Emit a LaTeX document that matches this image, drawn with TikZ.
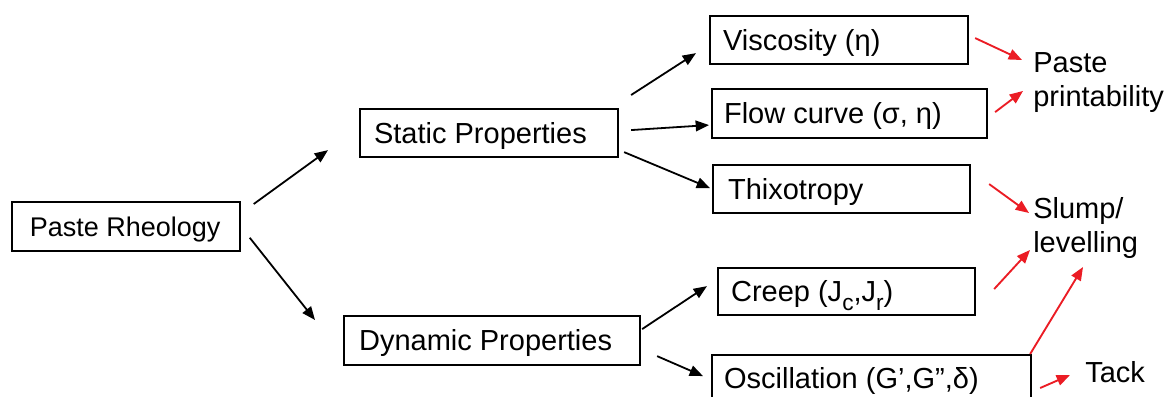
\documentclass[tikz,border=0pt]{standalone}
\usepackage{fontspec}
\setmainfont{Liberation Sans}
\usetikzlibrary{arrows.meta}
\definecolor{arrred}{RGB}{235,28,36}
\newcommand{\lsub}[1]{\raisebox{-0.3em}{\fontsize{17}{17}\selectfont #1}}
\newcommand{\fixw}[2]{\makebox[#1][l]{#2}}
\begin{document}
\begin{tikzpicture}[x=0.75pt,y=-0.75pt,
  pbox/.style={draw, line width=1.6pt, anchor=north west, inner ysep=0pt,
    text height=15.6pt, text depth=0pt, font=\fontsize{21.75}{26}\selectfont},
  lbl/.style={inner sep=0pt, align=left, font=\fontsize{21.75}{26}\selectfont},
  barr/.style={-{Triangle[length=10pt,width=8pt]}, line width=1.35pt},
  rarr/.style={-{Triangle[length=10pt,width=8pt]}, line width=1.4pt, color=arrred}]
\useasboundingbox (0,0) rectangle (1169,396);
\clip (0,0) rectangle (1169,396);

\node[pbox, line width=1.3pt, minimum width=171pt, minimum height=36.75pt, inner xsep=13.5pt,
  text height=14.5pt, font=\fontsize{20.25}{24}\selectfont] (paste) at (11,201) {\fixw{144pt}{Paste Rheology}};
\node[pbox, minimum width=193.5pt, minimum height=36pt, inner xsep=10.5pt] (static) at (359,108) {\fixw{172.5pt}{Static Properties}};
\node[pbox, minimum width=222pt, minimum height=36.75pt, inner xsep=11.25pt] (dynamic) at (343,315) {\fixw{199.5pt}{Dynamic Properties}};
\node[pbox, minimum width=193.5pt, minimum height=36pt, inner xsep=9.75pt] (visc) at (709,15) {\fixw{174pt}{Viscosity (η)}};
\node[pbox, minimum width=206.25pt, minimum height=36.75pt, inner xsep=9pt] (flow) at (711,88) {\fixw{188.25pt}{Flow curve (σ, η)}};
\node[pbox, minimum width=192.75pt, minimum height=36pt, inner xsep=11.25pt] (thix) at (712,164) {\fixw{170.25pt}{Thixotropy}};
\node[pbox, minimum width=192.75pt, minimum height=35.25pt, inner xsep=9.75pt] (creep) at (717,267) {\fixw{173.25pt}{Creep (J\lsub{c},J\lsub{r})}};
\node[pbox, minimum width=239.25pt, minimum height=35.25pt, inner xsep=9pt] (osc) at (711,354) {\fixw{221.25pt}{Oscillation (G’,G”,δ)}};

\node[lbl, anchor=north west] (pp) at (1033,52) {Paste\\printability};
\node[lbl, anchor=north west] (sl) at (1033,197) {Slump/\\levelling};
\node[lbl, anchor=base west] (tack) at (1085,382) {Tack};

% black arrows
\draw[barr] ([shift={(13,3)}]paste.north east) -- ([shift={(-31,-8)}]static.south west);
\draw[barr] ([shift={(9,-14)}]paste.south east) -- ([shift={(-28,5)}]dynamic.north west);
\draw[barr] ([shift={(12,-13)}]static.north east) -- ([shift={(-13,-12)}]visc.south west);
\draw[barr] ([shift={(12,-3)}]static.east) -- ([shift={(-2,11.5)}]flow.west);
\draw[barr] ([shift={(5,-6)}]static.south east) -- ([shift={(-2,-1)}]thix.west);
\draw[barr] ([shift={(1,-11.5)}]dynamic.east) -- ([shift={(-10,-30)}]creep.south west);
\draw[barr] ([shift={(16,-10)}]dynamic.south east) -- ([shift={(-8,-2.5)}]osc.west);

% red arrows
\draw[rarr] ([shift={(6,-2)}]visc.east) -- ([shift={(-11,8)}]pp.north west);
\draw[rarr] ([shift={(7,-1.5)}]flow.east) -- ([shift={(-10,39)}]pp.north west);
\draw[rarr] ([shift={(18,-5)}]thix.east) -- ([shift={(-4,16)}]sl.north west);
\draw[rarr] ([shift={(18,-2.5)}]creep.east) -- ([shift={(-3,53)}]sl.north west);
\draw[rarr] ([shift={(-2,0)}]osc.north east) -- ([shift={(50,70)}]sl.north west);
\draw[rarr] ([shift={(8,34)}]osc.north east) -- ([shift={(-15,-7)}]tack.base west);
\end{tikzpicture}
\end{document}
